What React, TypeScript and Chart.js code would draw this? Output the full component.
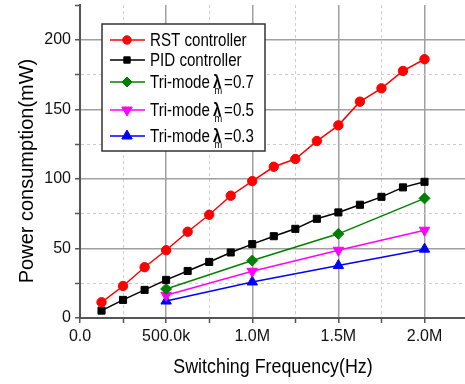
import React, { useEffect, useRef } from 'react';
import { Chart, registerables } from 'chart.js';

Chart.register(...registerables);

const frequencies = [125000, 250000, 375000, 500000, 625000, 750000, 875000, 1000000, 1125000, 1250000, 1375000, 1500000, 1625000, 1750000, 1875000, 2000000];
const rstPower = [11.3, 23, 36.5, 48.7, 62, 74.2, 87.9, 98.4, 108.7, 114.3, 127.2, 138.5, 155.5, 165.1, 177.6, 186];
const pidPower = [5.3, 13, 20.2, 27.4, 33.8, 40.3, 47.1, 53.1, 58.8, 64.1, 71.3, 75.9, 81.4, 87.1, 93.9, 97.9];
const triFrequencies = [500000, 1000000, 1500000, 2000000];
const tri07Power = [20.9, 41.3, 60.5, 86];
const tri05Power = [16.3, 33.6, 48.7, 63.1];
const tri03Power = [12.2, 25.9, 37.7, 49.5];

const xGridValues = [0, 250000, 500000, 750000, 1000000, 1250000, 1500000, 1750000, 2000000];
const xTickValues = [0, 500000, 1000000, 1500000, 2000000];
const xTickLabels = ['0.0', '500.0k', '1.0M', '1.5M', '2.0M'];
const yGridValues = [0, 25, 50, 75, 100, 125, 150, 175, 200, 225];
const yTickValues = [0, 50, 100, 150, 200];
const yTickLabels = ['0', '50', '100', '150', '200'];

const seriesNames = ['RST controller', 'PID controller', 'Tri-mode λm=0.7', 'Tri-mode λm=0.5', 'Tri-mode λm=0.3'];
const xTitle = 'Switching Frequency(Hz)';
const yTitle = 'Power consumption(mW)';

const FONT = "'Liberation Sans', Arial, sans-serif";

const near = (v: number, arr: number[]) => arr.findIndex((a) => Math.abs(a - v) < 1e-6 * Math.max(1, Math.abs(a)));

function drawMarker(ctx: CanvasRenderingContext2D, style: string, x: number, y: number, r: number, rot: number, color: string) {
  ctx.save();
  ctx.fillStyle = color;
  ctx.strokeStyle = color;
  ctx.lineWidth = 1;
  ctx.beginPath();
  if (style === 'circle') {
    ctx.arc(x, y, r, 0, Math.PI * 2);
  } else if (style === 'rect') {
    const s = r * Math.SQRT1_2;
    ctx.rect(x - s, y - s, 2 * s, 2 * s);
  } else if (style === 'rectRot') {
    ctx.moveTo(x, y - r);
    ctx.lineTo(x + r, y);
    ctx.lineTo(x, y + r);
    ctx.lineTo(x - r, y);
    ctx.closePath();
  } else if (style === 'triangle') {
    let a = (rot * Math.PI) / 180;
    ctx.moveTo(x + Math.sin(a) * r, y - Math.cos(a) * r);
    a += (2 * Math.PI) / 3;
    ctx.lineTo(x + Math.sin(a) * r, y - Math.cos(a) * r);
    a += (2 * Math.PI) / 3;
    ctx.lineTo(x + Math.sin(a) * r, y - Math.cos(a) * r);
    ctx.closePath();
  }
  ctx.fill();
  ctx.stroke();
  ctx.restore();
}

const overlayPlugin = {
  id: 'overlay',
  afterDraw(chart: any) {
    const ctx: CanvasRenderingContext2D = chart.ctx;
    ctx.save();
    // legend box
    const bx = 102, by = 24, bw = 163, bh = 127;
    ctx.fillStyle = '#ffffff';
    ctx.fillRect(bx, by, bw, bh);
    ctx.strokeStyle = '#333333';
    ctx.lineWidth = 1.5;
    ctx.strokeRect(bx, by, bw, bh);

    const rows = [40, 60, 82, 110, 136];
    const sx = 0.84;
    chart.data.datasets.forEach((ds: any, i: number) => {
      const y = rows[i];
      ctx.strokeStyle = ds.borderColor;
      ctx.lineWidth = 1.5;
      ctx.beginPath();
      ctx.moveTo(110, y);
      ctx.lineTo(145, y);
      ctx.stroke();
      drawMarker(ctx, ds.pointStyle, 127, y, ds.legendRadius, ds.pointRotation || 0, ds.borderColor);

      const name: string = ds.label;
      ctx.fillStyle = '#000000';
      ctx.textBaseline = 'alphabetic';
      ctx.textAlign = 'left';
      const base = y + 5.5;
      const li = name.indexOf('λm');
      if (li < 0) {
        ctx.font = `18px ${FONT}`;
        ctx.save();
        ctx.translate(150, base);
        ctx.scale(sx, 1);
        ctx.fillText(name, 0, 0);
        ctx.restore();
      } else {
        const pre = name.slice(0, li).trim();
        const post = name.slice(li + 2);
        ctx.font = `18px ${FONT}`;
        const wPre = ctx.measureText(pre).width * sx;
        ctx.save();
        ctx.translate(150, base);
        ctx.scale(sx, 1);
        ctx.fillText(pre, 0, 0);
        ctx.restore();
        const lx = 150 + wPre + 3;
        ctx.font = `bold 18px ${FONT}`;
        const wL = ctx.measureText('λ').width * sx;
        ctx.save();
        ctx.translate(lx, base);
        ctx.scale(sx, 1);
        ctx.fillText('λ', 0, 0);
        ctx.restore();
        ctx.font = `11px ${FONT}`;
        const wM = ctx.measureText('m').width * sx;
        ctx.save();
        ctx.translate(lx + 1.5, base + 6.5);
        ctx.scale(sx, 1);
        ctx.fillText('m', 0, 0);
        ctx.restore();
        const px = lx + Math.max(wL, wM + 1.5) + 2;
        ctx.font = `18px ${FONT}`;
        ctx.save();
        ctx.translate(px, base);
        ctx.scale(sx, 1);
        ctx.fillText(post, 0, 0);
        ctx.restore();
      }
    });

    // axis titles
    ctx.fillStyle = '#000000';
    ctx.textAlign = 'center';
    ctx.textBaseline = 'alphabetic';
    ctx.font = `21px ${FONT}`;
    ctx.save();
    ctx.translate(273, 373);
    ctx.scale(0.85, 1);
    ctx.fillText(xTitle, 0, 0);
    ctx.restore();

    ctx.font = `20px ${FONT}`;
    ctx.save();
    ctx.translate(33, 171);
    ctx.rotate(-Math.PI / 2);
    ctx.fillText(yTitle, 0, 0);
    ctx.restore();

    ctx.restore();
  },
};

export default function App() {
  const canvasRef = useRef<HTMLCanvasElement | null>(null);

  useEffect(() => {
    document.body.style.margin = '0';
    const canvas = canvasRef.current;
    if (!canvas) return;

    const mk = (label: string, xs: number[], ys: number[], color: string, style: string, radius: number, legendRadius: number, rotation = 0) => ({
      label,
      data: xs.map((x, i) => ({ x, y: ys[i] })),
      borderColor: color,
      backgroundColor: color,
      borderWidth: 1.5,
      pointStyle: style,
      pointRadius: radius,
      pointHoverRadius: radius,
      pointRotation: rotation,
      pointBorderWidth: 1,
      pointBackgroundColor: color,
      pointBorderColor: color,
      legendRadius,
      tension: 0,
      fill: false,
    });

    const xMajor = (c: any) => c.tick && near(c.tick.value, xTickValues) >= 0;
    const yMajor = (c: any) => c.tick && near(c.tick.value, yTickValues) >= 0;

    const chart = new Chart(canvas, {
      type: 'line',
      data: {
        datasets: [
          mk(seriesNames[0], frequencies, rstPower, '#ff0000', 'circle', 4.7, 4.2),
          mk(seriesNames[1], frequencies, pidPower, '#000000', 'rect', 5, 4.5),
          mk(seriesNames[2], triFrequencies, tri07Power, '#008000', 'rectRot', 5.5, 5),
          mk(seriesNames[3], triFrequencies, tri05Power, '#ff00ff', 'triangle', 6, 6, 180),
          mk(seriesNames[4], triFrequencies, tri03Power, '#0000ff', 'triangle', 6, 6),
        ] as any,
      },
      options: {
        animation: false,
        responsive: false,
        devicePixelRatio: 1,
        layout: { padding: { top: 5, right: 0, left: 0, bottom: 0 }, autoPadding: false },
        plugins: { legend: { display: false }, tooltip: { enabled: false }, title: { display: false } },
        scales: {
          x: {
            type: 'linear',
            min: 0,
            max: 2235000,
            afterBuildTicks: (s: any) => { s.ticks = xGridValues.map((v) => ({ value: v })); },
            afterFit: (s: any) => { s.height = 66; s.paddingLeft = 0; s.paddingRight = 0; },
            ticks: {
              autoSkip: false,
              maxRotation: 0,
              padding: 4,
              color: '#111111',
              font: { family: FONT, size: 16 },
              callback: (v: any) => {
                const i = near(Number(v), xTickValues);
                return i >= 0 ? xTickLabels[i] : '';
              },
            },
            grid: {
              color: (c: any) => (xMajor(c) ? '#a0a0a0' : '#cccccc'),
              lineWidth: (c: any) => (xMajor(c) ? 1.5 : 1),
              tickColor: '#555555',
              tickLength: 5,
              tickWidth: 1.5,
            },
            border: {
              color: '#555555',
              width: 2,
              dash: (c: any) => (c.tick && !xMajor(c) ? [3, 3] : []),
            },
          },
          y: {
            type: 'linear',
            min: 0,
            max: 225,
            afterBuildTicks: (s: any) => { s.ticks = yGridValues.map((v) => ({ value: v })); },
            afterFit: (s: any) => { s.width = 80; s.paddingTop = 0; s.paddingBottom = 0; },
            ticks: {
              autoSkip: false,
              padding: 4,
              color: '#111111',
              font: { family: FONT, size: 16 },
              callback: (v: any) => {
                const i = near(Number(v), yTickValues);
                return i >= 0 ? yTickLabels[i] : '';
              },
            },
            grid: {
              color: (c: any) => {
                if (c.tick && c.tick.value >= 225) return 'rgba(0,0,0,0)';
                return yMajor(c) ? '#a0a0a0' : '#cccccc';
              },
              lineWidth: (c: any) => (yMajor(c) ? 1.5 : 1),
              tickColor: '#555555',
              tickLength: 5,
              tickWidth: 1.5,
            },
            border: {
              color: '#555555',
              width: 2,
              dash: (c: any) => (c.tick && !yMajor(c) ? [3, 3] : []),
            },
          },
        },
      } as any,
      plugins: [overlayPlugin],
    });

    return () => {
      chart.destroy();
    };
  }, []);

  return (
    <div style={{ width: 465, height: 384, background: '#ffffff' }}>
      <canvas ref={canvasRef} width={465} height={384} style={{ display: 'block' }} />
    </div>
  );
}
